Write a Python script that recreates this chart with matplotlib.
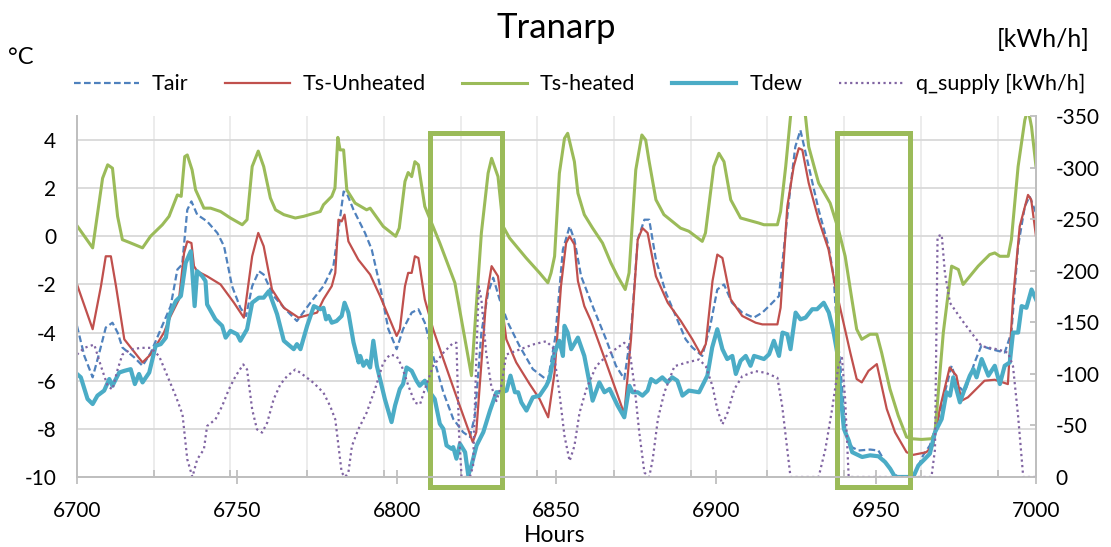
import numpy as np
import matplotlib.pyplot as plt
from matplotlib.patches import Rectangle
from matplotlib.ticker import MultipleLocator

plt.rcParams['font.family'] = ['Lato', 'DejaVu Sans']
plt.rcParams['axes.unicode_minus'] = False

# ---- data (hours, value) ----
tair_h = [6700, 6702.3, 6704.9, 6707, 6709, 6711.1, 6712.7, 6714.2, 6717.9, 6720.5, 6723.1, 6726.2, 6729.3,
          6731.4, 6732.9, 6734.5, 6735.8, 6737.6, 6740.7, 6743.9, 6746, 6748.5, 6751.1, 6752.9, 6754.8, 6756.9,
          6758.4, 6761.5, 6765.2, 6768.8, 6773.0, 6777.1, 6780.2, 6781.8, 6783.4, 6784.4, 6786.5, 6790.1, 6792.2,
          6794.8, 6797.4, 6800, 6802, 6804.7, 6806.8, 6808.8, 6811.4, 6814.6, 6817.7, 6820.8, 6822.9, 6824.5,
          6826.5, 6828.6, 6830.2, 6832.2, 6834.8, 6838.4, 6842.6, 6847.3, 6849.6, 6852.0, 6854.1, 6855.6, 6857.7,
          6861.3, 6865.5, 6868.6, 6871.2, 6873.3, 6875.4, 6877.5, 6879.0, 6881.1, 6884.2, 6887.3, 6890.4, 6892.5,
          6895.6, 6898.1, 6900.3, 6902.4, 6904.9, 6908.1, 6911.7, 6914.4, 6917.0, 6919.6, 6921.1, 6923.2, 6924.7,
          6926.3, 6928.9, 6932.0, 6935.1, 6936.7, 6937.8, 6938.8, 6940.4, 6942.4, 6944.5, 6948.1, 6950.7, 6952.8,
          6955.4, 6957, 6961.6, 6964.7, 6966.8, 6969.4, 6972, 6973.6, 6975.6, 6977.7, 6980.8, 6982.9, 6986.0,
          6990.2, 6992.3, 6994.4, 6996.5, 6998.0, 7000]
tair = [-3.72, -4.97, -5.86, -4.83, -3.79, -3.59, -4.0, -4.62, -5.03, -5.38, -4.83, -3.86, -2.90,
        -1.38, -1.17, 1.10, 1.45, 0.90, 0.62, 0.14, -0.41, -2.07, -2.97, -3.31, -2.07, -1.45,
        -1.59, -2.48, -3.03, -3.52, -2.76, -2.07, -1.24, 0.28, 1.86, 1.79, 1.10, 0.14, -0.55,
        -2.07, -3.86, -4.69, -3.86, -3.17, -3.03, -3.59, -4.97, -6.48, -7.59, -8.14, -8.34, -7.45,
        -4.0, -2.34, -1.72, -2.62, -3.59, -4.55, -5.52, -6.0, -4.2, -0.55, 0.41, -0.14, -1.66,
        -2.90, -4.28, -5.38, -5.93, -4.0, -0.14, 0.69, 0.69, -0.97, -2.34, -3.31, -4.28, -4.62,
        -4.97, -3.72, -2.21, -2.0, -2.76, -3.17, -3.38, -3.17, -2.83, -2.48, -0.55, 2.07, 3.72,
        4.41, 2.90, 1.10, -0.41, -1.66, -4.0, -5.38, -8.14, -8.76, -8.90, -8.86, -8.90, -9.38,
        -9.86, -10.0, -10.0, -9.10, -8.69, -7.59, -6.21, -5.38, -6.21, -6.48, -5.24, -4.55, -4.69,
        -4.83, -4.0, -0.41, 1.24, 1.66, 0.97]

ts_unheated_h = [6700, 6704.9, 6707.5, 6709, 6710.6, 6712.2, 6714.8, 6720.5, 6723.1, 6727.2, 6729.3, 6731.9,
                 6733.5, 6734.5, 6735.8, 6736.6, 6737.6, 6740.7, 6744.9, 6749.1, 6752.2, 6754.8, 6756.7, 6758.4,
                 6761, 6764.7, 6769.3, 6775.1, 6777.1, 6779.7, 6780.8, 6781.8, 6782.8, 6783.7, 6784.9, 6788,
                 6791.7, 6794.8, 6797.4, 6800, 6801, 6802.6, 6803.6, 6804.7, 6805.7, 6806.8, 6808.8, 6811.4,
                 6814.6, 6818.6, 6823.8, 6824.9, 6828.0, 6829.7, 6831.7, 6834.3, 6837.4, 6841.6, 6844.7, 6847.4,
                 6849.4, 6851.4, 6853.0, 6854.1, 6855.6, 6856.7, 6858.7, 6860.8, 6865.5, 6871.2, 6873.3, 6875.4,
                 6876.9, 6878.5, 6879.6, 6881.1, 6884.8, 6888.9, 6892.5, 6895.1, 6896.7, 6898.8, 6900.3, 6901.9,
                 6904.5, 6908.1, 6912.3, 6914.4, 6919.1, 6920.1, 6922.2, 6924.2, 6925.8, 6926.9, 6928.9, 6932.0,
                 6935.1, 6937.2, 6939.3, 6941.9, 6943.9, 6945.5, 6947.6, 6950.2, 6951.7, 6953.3, 6955.9, 6959.5,
                 6961.6, 6965.7, 6967.8, 6969.9, 6973.0, 6975.1, 6976.7, 6978.7, 6983.9, 6987.1, 6991.2, 6992.8,
                 6994.9, 6997.5, 6998.5, 7000]
ts_unheated = [-2.0, -3.86, -2.07, -0.83, -0.83, -2.07, -4.28, -5.24, -4.90, -4.0, -3.31, -2.62,
               -0.69, -0.21, -0.28, -1.24, -1.45, -1.66, -2.0, -2.76, -3.38, -0.83, 0.14, -0.41,
               -2.21, -2.97, -3.38, -3.17, -2.62, -2.07, -1.52, 0.69, 0.62, 0.90, -0.21, -0.97,
               -1.59, -2.48, -3.31, -4.14, -3.86, -2.07, -1.52, -1.52, -0.83, -0.90, -2.62, -3.86,
               -5.10, -6.62, -8.55, -8.14, -2.62, -1.24, -1.66, -4.28, -5.24, -6.14, -6.76, -7.52,
               -5.66, -2.07, -0.28, 0.0, -0.34, -1.86, -2.90, -3.52, -5.24, -7.38, -4.28, -0.14,
               0.34, 0.14, -0.62, -1.66, -2.76, -3.52, -4.28, -4.90, -4.48, -1.86, -0.76, -0.90,
               -2.62, -3.31, -3.59, -3.66, -3.66, -2.97, 1.24, 2.90, 3.66, 3.59, 2.21, 0.69,
               -0.55, -2.07, -3.31, -4.83, -5.93, -6.07, -5.59, -5.31, -6.21, -7.17, -8.14, -8.97,
               -9.08, -8.97, -8.69, -7.17, -5.45, -5.79, -6.83, -6.69, -6.0, -5.96, -6.14, -2.62,
               0.41, 1.72, 1.52, 0.0]

ts_heated_h = [6700, 6704.9, 6708, 6709.6, 6711.1, 6712.7, 6714.2, 6716.3, 6720.5, 6723, 6726.7, 6728.8,
               6731.4, 6732.6, 6733.7, 6734.5, 6736, 6737.1, 6739.7, 6741.8, 6744.9, 6748, 6751.7, 6753.2,
               6754.8, 6756.7, 6758.4, 6760.5, 6762.1, 6764.7, 6768.3, 6770.9, 6776.1, 6777.1, 6779.7, 6780.7,
               6781.6, 6782.3, 6783.4, 6784.4, 6787, 6790.6, 6791.7, 6795.8, 6799.7, 6800.8, 6802.6, 6803.6,
               6804.7, 6805.7, 6806.8, 6808.8, 6813.5, 6818.2, 6823.4, 6826.5, 6828.6, 6829.7, 6831.7, 6833.3,
               6835.3, 6840.5, 6844.7, 6847.3, 6848.3, 6849.4, 6850.9, 6852.5, 6853.5, 6855.6, 6856.7, 6858.7,
               6861.3, 6864.4, 6867.0, 6869.1, 6871.5, 6872.7, 6874.8, 6876.7, 6877.9, 6878.9, 6881.1, 6883.6,
               6888.8, 6891.4, 6895.6, 6896.6, 6899.2, 6900.8, 6902.4, 6904.5, 6907.6, 6913.3, 6914.9, 6919.1,
               6920.1, 6921.7, 6923.2, 6924.5, 6926.2, 6927.9, 6928.9, 6932.0, 6935.6, 6938.2, 6940.3, 6942.4,
               6943.9, 6945.5, 6948.1, 6950.2, 6951.7, 6954.3, 6956.9, 6959.5, 6961.1, 6964.2, 6967.4, 6968.4,
               6971, 6973.6, 6975.7, 6977.2, 6981.9, 6985.5, 6987.1, 6988.7, 6991.3, 6992.3, 6994.4, 6996.5,
               6997.5, 6998.6, 7000]
ts_heated = [0.44, -0.48, 2.41, 2.97, 2.83, 0.83, -0.14, -0.25, -0.48, 0.0, 0.48, 0.83,
             1.72, 1.66, 3.31, 3.38, 2.76, 1.93, 1.17, 1.17, 1.03, 0.76, 0.48, 0.69,
             2.90, 3.54, 2.90, 1.59, 1.10, 0.90, 0.76, 0.83, 1.03, 1.31, 1.66, 2.0,
             4.11, 3.59, 3.59, 1.93, 1.38, 1.10, 1.17, 0.41, 0.0, 0.34, 2.28, 2.65,
             2.48, 3.10, 2.97, 1.24, -0.28, -1.93, -5.79, 0.14, 2.62, 3.24, 2.48, 0.41,
             -0.07, -0.90, -1.52, -1.93, -1.52, -0.83, 2.62, 4.07, 4.28, 3.10, 1.79, 0.90,
             0.34, -0.28, -1.10, -1.66, -2.21, -1.52, 2.76, 4.21, 4.0, 3.17, 1.52, 0.90,
             0.34, 0.21, -0.21, 0.14, 2.90, 3.45, 3.10, 1.52, 0.76, 0.55, 0.48, 0.48,
             1.03, 2.90, 4.97, 5.8, 6.0, 4.97, 3.72, 2.21, 1.38, 0.28, -0.83, -2.62,
             -3.86, -4.28, -4.07, -4.07, -4.83, -6.34, -7.45, -8.34, -8.41, -8.44, -8.41, -8.14,
             -4.0, -1.24, -1.38, -2.0, -1.24, -0.76, -0.69, -0.83, -0.83, -0.14, 2.90, 4.83,
             5.3, 4.55, 2.9]

tdew_h = [6700, 6701.2, 6703.3, 6704.9, 6706.4, 6708.5, 6710.1, 6711.1, 6713.2, 6714.8, 6716.8, 6718.1,
          6719.4, 6720.5, 6722.6, 6724.6, 6726.2, 6727.8, 6728.8, 6730.9, 6732.5, 6734.0, 6735.6, 6736.1,
          6736.8, 6737.6, 6739.2, 6740.2, 6740.7, 6743.3, 6745.4, 6746.5, 6748.0, 6750.1, 6751.1, 6753.2,
          6754.8, 6756.9, 6758.4, 6760.0, 6762.6, 6764.7, 6767.8, 6768.8, 6769.9, 6772.0, 6774.1, 6776.1,
          6777.1, 6777.9, 6778.7, 6779.7, 6781.2, 6782.8, 6783.7, 6784.9, 6786.5, 6788.1, 6788.6, 6789.6,
          6790.6, 6791.7, 6792.7, 6793.8, 6794.8, 6796.3, 6798.4, 6799.5, 6801.0, 6802.0, 6803.1, 6804.7,
          6806.2, 6807.2, 6808.8, 6810.4, 6811.9, 6813.5, 6814.6, 6815.6, 6817.2, 6817.7, 6818.7, 6819.8,
          6821.4, 6822.4, 6823.4, 6825.0, 6827.1, 6829.2, 6831.2, 6832.8, 6834.4, 6835.6, 6837.0, 6838.0,
          6839.0, 6840.6, 6842.6, 6844.7, 6846.8, 6847.8, 6849.4, 6850.9, 6852.0, 6852.5, 6853.5, 6854.6,
          6856.7, 6858.7, 6860.3, 6861.3, 6863.4, 6865.0, 6866.6, 6869.1, 6871.2, 6872.8, 6873.8, 6875.4,
          6876.9, 6878.5, 6879.6, 6881.1, 6883.1, 6884.7, 6886.2, 6887.8, 6889.4, 6891.4, 6894.6, 6897.2,
          6898.7, 6900.3, 6901.9, 6903.4, 6905.0, 6906.1, 6907.6, 6909.2, 6910.7, 6911.8, 6913.3, 6914.9,
          6916.5, 6918.0, 6919.6, 6920.7, 6922.2, 6923.2, 6924.8, 6926.3, 6927.9, 6930.0, 6931.5, 6933.6,
          6935.2, 6936.7, 6937.8, 6938.8, 6939.9, 6941.4, 6942.5, 6945.6, 6948.1, 6950.7, 6952.8, 6954.4,
          6955.9, 6961.6, 6963.2, 6965.3, 6966.8, 6968.4, 6970.5, 6972.0, 6973.1, 6974.1, 6976.2, 6977.7,
          6979.3, 6980.4, 6981.4, 6983.0, 6985.1, 6987.1, 6988.7, 6990.2, 6991.8, 6992.8, 6994.4, 6995.5,
          6997.0, 6998.6, 7000]
tdew = [-5.72, -5.86, -6.76, -6.97, -6.62, -6.41, -5.93, -6.21, -5.66, -5.59, -5.52, -6.14,
        -5.72, -6.07, -5.66, -4.55, -4.48, -4.21, -3.31, -2.69, -2.48, -1.10, -0.62, -1.52,
        -2.90, -1.45, -1.66, -1.86, -2.83, -3.45, -3.72, -4.21, -3.93, -4.07, -4.34, -3.86,
        -2.76, -2.55, -2.55, -2.28, -3.24, -4.34, -4.69, -4.48, -4.69, -3.72, -2.90, -3.03,
        -2.97, -3.45, -3.31, -3.59, -3.52, -3.31, -2.76, -3.17, -4.41, -5.24, -4.97, -5.38,
        -5.17, -5.45, -4.34, -5.38, -5.93, -6.76, -7.72, -7.03, -6.34, -6.14, -5.45, -5.59,
        -6.0, -6.21, -6.0, -6.48, -6.76, -7.79, -8.0, -8.69, -8.83, -8.76, -9.24, -8.62,
        -8.97, -9.93, -9.52, -8.69, -8.14, -7.24, -6.48, -6.48, -6.41, -5.79, -6.48, -6.48,
        -6.90, -7.24, -6.69, -6.62, -6.21, -5.93, -4.83, -4.34, -4.97, -3.72, -4.0, -4.69,
        -4.21, -4.97, -6.07, -6.83, -6.07, -6.48, -6.34, -7.03, -7.52, -6.21, -6.48, -6.48,
        -6.62, -6.41, -5.93, -6.07, -5.86, -6.07, -5.86, -6.0, -6.62, -6.41, -6.48, -5.79,
        -4.62, -3.86, -4.69, -5.10, -4.97, -5.72, -5.17, -4.97, -5.38, -4.97, -5.03, -5.10,
        -4.90, -4.34, -4.97, -4.0, -4.07, -4.69, -3.17, -3.45, -3.38, -3.03, -3.03, -2.76,
        -3.17, -4.0, -4.83, -6.48, -8.0, -8.48, -8.97, -9.17, -9.10, -9.14, -9.38, -9.66,
        -10.0, -10.0, -9.52, -9.24, -9.03, -8.14, -7.59, -6.48, -6.62, -5.86, -6.90, -6.34,
        -5.79, -5.52, -5.86, -5.10, -5.79, -5.38, -6.14, -5.38, -5.24, -4.0, -4.0, -2.90,
        -2.97, -2.21, -2.62]

q_h = [6700, 6702.3, 6705.4, 6707.5, 6709.6, 6711.1, 6712.7, 6714.2, 6716.8, 6720.0, 6723.1, 6725.7,
       6728.3, 6730.9, 6733.0, 6734.5, 6736.1, 6737.6, 6739.7, 6740.7, 6743.3, 6745.4, 6747.5, 6749.6,
       6752.0, 6753.2, 6754.8, 6756.3, 6757.9, 6759.5, 6761.5, 6763.6, 6765.7, 6768.3, 6769.9, 6774.0,
       6777.1, 6779.2, 6780.8, 6781.8, 6782.8, 6783.9, 6784.9, 6786.0, 6788.0, 6790.6, 6793.2, 6795.8,
       6797.9, 6800.0, 6801.6, 6803.7, 6805.7, 6807.3, 6808.8, 6811.4, 6814.6, 6817.7, 6818.7, 6819.5,
       6820.3, 6822.9, 6823.9, 6825.0, 6825.7, 6826.5, 6828.0, 6829.6, 6831.2, 6832.7, 6834.3, 6838.5,
       6842.6, 6846.8, 6848.9, 6850.9, 6852.5, 6854.1, 6855.6, 6857.2, 6859.3, 6862.4, 6866.1, 6871.2,
       6872.8, 6874.4, 6875.9, 6877.5, 6879.0, 6880.1, 6881.7, 6883.7, 6886.9, 6890.4, 6894.6, 6896.7,
       6898.8, 6900.3, 6901.9, 6903.5, 6905.6, 6908.1, 6912.3, 6915.4, 6919.1, 6920.6, 6922.2, 6923.2,
       6932.0, 6934.1, 6936.2, 6938.2, 6939.3, 6940.3, 6941.4, 6946.5, 6967.3, 6968.4, 6969.2, 6970.5,
       6971.5, 6973.1, 6976.7, 6979.8, 6983.0, 6988.2, 6991.3, 6992.8, 6994.4, 6996.0, 7000]
q_supply = [-118.7, -125.2, -128.4, -107.4, -88.1, -84.9, -104.2, -118.7, -123.6, -125.2, -125.2, -117.1,
            -97.7, -78.4, -60.7, -17.1, 0, -17.1, -26.8, -49.4, -55.8, -68.7, -84.9, -97.7,
            -109.1, -104.2, -65.5, -46.2, -43.0, -52.6, -75.2, -89.7, -97.7, -104.2, -101.0, -91.3,
            -81.7, -68.7, -55.8, -30.0, -4.3, 0, -4.3, -30.0, -46.2, -62.3, -84.9, -110.7,
            -118.7, -117.1, -107.4, -88.1, -72.0, -70.4, -84.9, -107.4, -120.4, -130.1, -130.1, -43.0,
            0, 0, -10.6, -123.6, -184.8, -171.9, -120.4, -88.1, -73.6, -88.1, -118.7, -123.6,
            -128.4, -131.6, -125.2, -81.7, -39.7, -15.5, -30.0, -62.3, -84.9, -107.4, -118.7, -130.1,
            -123.6, -88.1, -43.0, -4.3, 0, -17.1, -55.8, -81.7, -107.4, -110.7, -113.9, -107.4,
            -88.1, -65.5, -51.0, -62.3, -84.9, -97.7, -102.6, -101.0, -96.2, -68.7, -26.8, 0,
            0, -26.8, -65.5, -107.4, -115.5, -75.2, 0, 0, 0, -26.8, -233.2, -234.9,
            -197.8, -168.8, -152.6, -139.7, -126.8, -123.6, -120.4, -107.4, -59.0, 0, 0]

# highlighted periods (hours)
box_periods = [(6810.4, 6832.8), (6937.7, 6960.6)]

c_tair = '#4F81BD'
c_unh = '#C0504D'
c_heat = '#9BBB59'
c_dew = '#4BACC6'
c_q = '#8064A2'

fig = plt.figure(figsize=(11.11, 5.47), dpi=100)
ax = fig.add_axes([0.0693, 0.128, 0.8632, 0.66])
ax2 = ax.twinx()

l1, = ax.plot(tair_h, tair, color=c_tair, lw=1.6, ls=(0, (3, 1.5)), label='Tair')
l2, = ax.plot(ts_unheated_h, ts_unheated, color=c_unh, lw=1.6, label='Ts-Unheated')
l3, = ax.plot(ts_heated_h, ts_heated, color=c_heat, lw=2.2, label='Ts-heated')
l4, = ax.plot(tdew_h, tdew, color=c_dew, lw=3.0, label='Tdew')
l5, = ax2.plot(q_h, q_supply, color=c_q, lw=1.6, ls=(0, (1, 1.5)), label='q_supply [kWh/h]')

ax.set_xlim(6700, 7000)
ax.set_ylim(-10, 5)
ax.set_yticks(np.arange(-10, 5, 2))
ax2.set_ylim(0, -350)
ax2.set_yticks(np.arange(-350, 1, 50))

ax.xaxis.set_major_locator(MultipleLocator(50))
ax.set_xticks(np.arange(6724, 7000, 24), minor=True)
ax.grid(axis='y', color='#D9D9D9', lw=1.3)
ax.grid(axis='x', which='minor', color='#EBEBEB', lw=1.3)
ax.set_axisbelow(True)

for a in (ax, ax2):
    a.spines['top'].set_visible(False)
    for s in ('left', 'right', 'bottom'):
        a.spines[s].set_color('#BFBFBF')
        a.spines[s].set_linewidth(1.3)
ax.tick_params(axis='y', length=0, labelsize=15, pad=15)
ax.tick_params(axis='x', which='major', direction='inout', length=10, width=1.3, color='#BFBFBF',
               labelsize=15, pad=12)
ax.tick_params(axis='x', which='minor', direction='in', length=5, width=1.3, color='#BFBFBF')
ax2.tick_params(axis='y', direction='in', length=4, width=1.3, color='#BFBFBF', labelsize=15, pad=14)

for x0, x1 in box_periods:
    ax.add_patch(Rectangle((x0, -10.41), x1 - x0, 14.69, fill=False, ec=c_heat, lw=3.6,
                           clip_on=False, zorder=10))

fig.text(0.5005, 0.949, 'Tranarp', ha='center', va='center', fontsize=25)
fig.text(0.007, 0.894, '°C', ha='left', va='center', fontsize=17)
fig.text(0.981, 0.927, '[kWh/h]', ha='right', va='center', fontsize=18)
fig.text(0.4995, 0.009, 'Hours', ha='center', va='baseline', fontsize=16.5)

fig.legend(handles=[l1, l2, l3, l4, l5], loc='center', bbox_to_anchor=(0.522, 0.846), ncol=5,
           frameon=False, fontsize=15.5, handlelength=3.0, columnspacing=1.7, handletextpad=0.6)

fig.savefig('out.png', dpi=100)
